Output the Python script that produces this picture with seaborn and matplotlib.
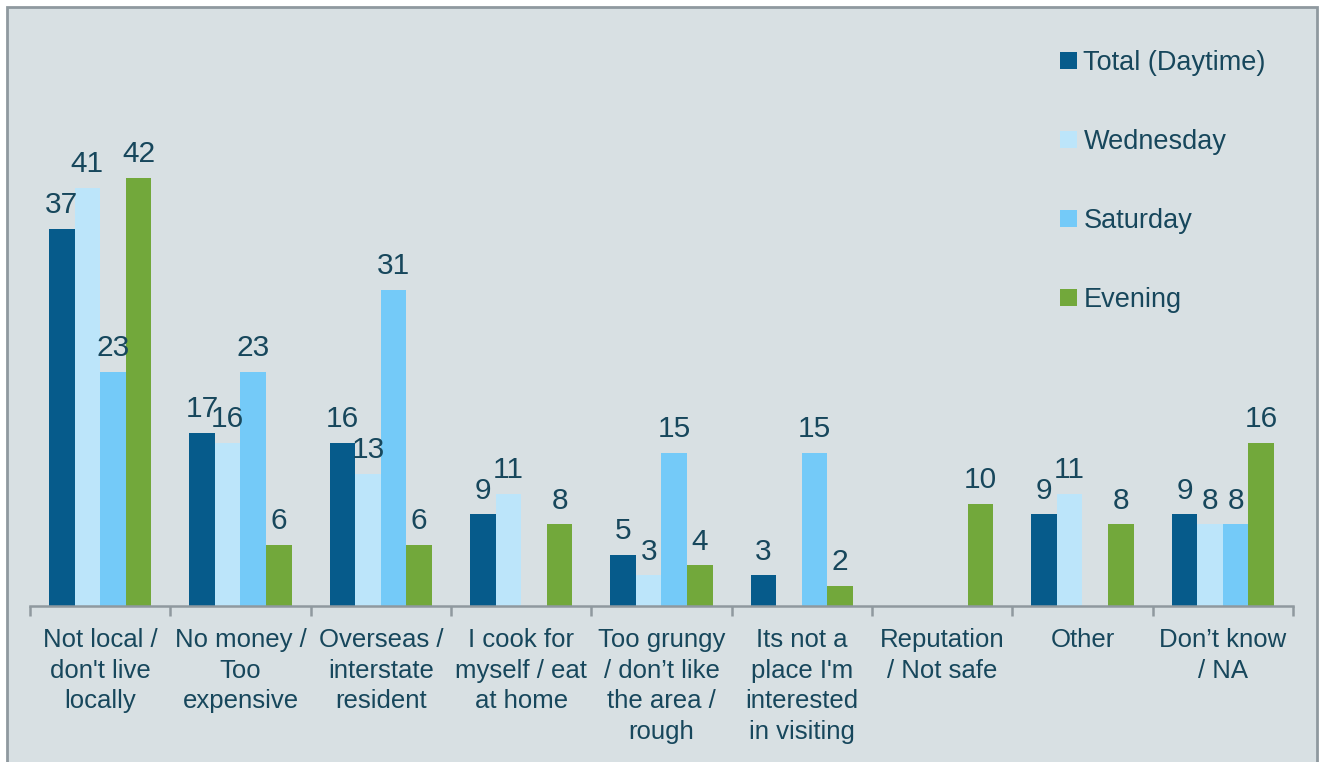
import numpy as np
import pandas as pd
import seaborn as sns
import matplotlib.pyplot as plt
from matplotlib.patches import Rectangle

categories = [
    "Not local /\ndon't live\nlocally",
    "No money /\nToo\nexpensive",
    "Overseas /\ninterstate\nresident",
    "I cook for\nmyself / eat\nat home",
    "Too grungy\n/ don\u2019t like\nthe area /\nrough",
    "Its not a\nplace I'm\ninterested\nin visiting",
    "Reputation\n/ Not safe",
    "Other",
    "Don\u2019t know\n/ NA",
]
series = ["Total (Daytime)", "Wednesday", "Saturday", "Evening"]
total_daytime = [37, 17, 16, 9, 5, 3, np.nan, 9, 9]
wednesday = [41, 16, 13, 11, 3, np.nan, np.nan, 11, 8]
saturday = [23, 23, 31, np.nan, 15, 15, np.nan, np.nan, 8]
evening = [42, 6, 6, 8, 4, 2, 10, 8, 16]

colors = ["#065B8B", "#BCE5FA", "#74CAF8", "#72A83B"]
bg = "#D8E0E3"
text_col = "#17475C"

df = pd.DataFrame({"Reason": categories, series[0]: total_daytime, series[1]: wednesday,
                   series[2]: saturday, series[3]: evening})
long = df.melt(id_vars="Reason", var_name="Series", value_name="Pct").dropna()

sns.set_theme(style="white")
plt.rcParams["font.family"] = ["Liberation Sans", "DejaVu Sans"]

fig = plt.figure(figsize=(13.19, 7.62), dpi=100, facecolor="white")
fig.patches.append(Rectangle((7 / 1319, -0.02), 1310 / 1319, 1 - 7 / 762 + 0.02,
                             transform=fig.transFigure, facecolor=bg,
                             edgecolor="#8F999F", lw=2, zorder=-10))
ax = fig.add_axes([30 / 1319, 1 - 606 / 762, 1263 / 1319, 586 / 762])
ax.set_facecolor("none")

sns.barplot(data=long, x="Reason", y="Pct", hue="Series", order=categories,
            hue_order=series, palette=colors, width=0.73, errorbar=None,
            saturation=1, linewidth=0, ax=ax)

for cont in ax.containers:
    ax.bar_label(cont, fmt="%d", padding=7, fontsize=21.5, color=text_col)

ax.set_ylim(0, 57.5)
ax.set_xlim(-0.5, len(categories) - 0.5)
ax.set_yticks([])
ax.set_xlabel("")
ax.set_ylabel("")
for s in ["top", "right", "left"]:
    ax.spines[s].set_visible(False)
ax.spines["bottom"].set_color("#8F999F")
ax.spines["bottom"].set_linewidth(1.8)

ax.tick_params(axis="x", which="major", length=0, pad=16, labelsize=18.5,
               labelcolor=text_col)
ax.set_xticks(np.arange(-0.5, len(categories)), minor=True)
ax.tick_params(axis="x", which="minor", bottom=True, length=7, width=1.8,
               color="#8F999F", direction="out")
for lbl in ax.get_xticklabels():
    lbl.set_linespacing(1.34)

ax.legend(loc="upper left", bbox_to_anchor=(1006 / 1263, 0.99), frameon=False,
          fontsize=19.5, labelcolor=text_col, handlelength=0.6, handleheight=0.6,
          handletextpad=0.25, labelspacing=1.95)

fig.savefig("out.png", dpi=100, facecolor="white")
